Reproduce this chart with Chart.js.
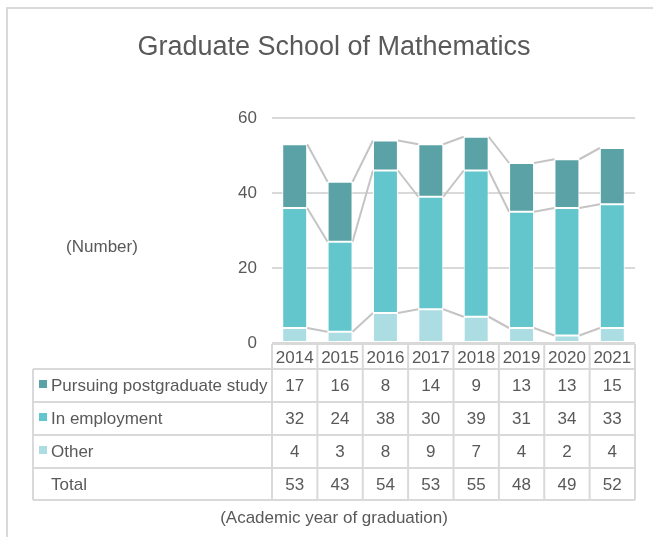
<!DOCTYPE html>
<html>
<head>
<meta charset="utf-8">
<script src="https://cdn.jsdelivr.net/npm/chart.js@4"></script>
<style>
  html, body { margin: 0; padding: 0; background: #fff; }
  #wrap { width: 653px; height: 537px; }
</style>
</head>
<body>
<div id="wrap"><canvas id="myChart" width="653" height="537"></canvas></div>
<script>
// chart values
const years = ['2014', '2015', '2016', '2017', '2018', '2019', '2020', '2021'];
const postgrad = [17, 16, 8, 14, 9, 13, 13, 15];
const employment = [32, 24, 38, 30, 39, 31, 34, 33];
const other = [4, 3, 8, 9, 7, 4, 2, 4];
const totals = [53, 43, 54, 53, 55, 48, 49, 52];
const seriesNames = ['Pursuing postgraduate study', 'In employment', 'Other'];
const yTicks = [0, 20, 40, 60];

const colors = { postgrad: '#5ba2a6', employment: '#62c6cc', other: '#acdde3' };
const textColor = '#595959';
const lineGray = '#d9d9d9';
const fontFamily = "'Liberation Sans', Arial, sans-serif";

// grey connector lines between stacked segments of neighbouring bars
const connectorPlugin = {
  id: 'connectors',
  beforeDatasetsDraw(chart) {
    const ctx = chart.ctx;
    ctx.save();
    ctx.strokeStyle = '#c4c4c4';
    ctx.lineWidth = 2;
    chart.data.datasets.forEach((ds, di) => {
      const bars = chart.getDatasetMeta(di).data;
      for (let i = 0; i < bars.length - 1; i++) {
        const a = bars[i], b = bars[i + 1];
        ctx.beginPath();
        ctx.moveTo(a.x + a.width / 2, a.y);
        ctx.lineTo(b.x - b.width / 2, b.y);
        ctx.stroke();
      }
    });
    ctx.restore();
  }
};

// frame, title, captions and the data table under the plot
const tablePlugin = {
  id: 'dataTable',
  beforeDraw(chart) {
    const ctx = chart.ctx;
    ctx.save();
    ctx.strokeStyle = lineGray;
    ctx.lineWidth = 2;
    ctx.strokeRect(7, 8, 700, 600);
    ctx.restore();
  },
  afterDraw(chart) {
    const ctx = chart.ctx;
    const area = chart.chartArea;
    const x = chart.scales.x;
    const n = years.length;
    const colW = (area.right - area.left) / n;
    const tableLeft = 33;
    const headerTop = area.bottom + 1;
    const rowTops = [headerTop + 25, headerTop + 58, headerTop + 91, headerTop + 124];
    const rowH = 32;
    const tableBottom = rowTops[3] + rowH;

    ctx.save();
    ctx.fillStyle = textColor;

    // title
    ctx.font = '27px ' + fontFamily;
    ctx.textAlign = 'center';
    ctx.textBaseline = 'middle';
    ctx.fillText('Graduate School of Mathematics', 334, 48);

    ctx.font = '17px ' + fontFamily;
    ctx.fillText('(Number)', 102, 247);
    ctx.fillText('(Academic year of graduation)', 334, 518);

    // grid lines of the table
    ctx.strokeStyle = lineGray;
    ctx.lineWidth = 2;
    ctx.beginPath();
    ctx.moveTo(area.left, headerTop); ctx.lineTo(area.right, headerTop);
    rowTops.forEach(t => { ctx.moveTo(tableLeft, t); ctx.lineTo(area.right, t); });
    ctx.moveTo(tableLeft, tableBottom); ctx.lineTo(area.right, tableBottom);
    ctx.moveTo(tableLeft, rowTops[0]); ctx.lineTo(tableLeft, tableBottom);
    for (let i = 0; i <= n; i++) {
      const cx = area.left + i * colW;
      ctx.moveTo(cx, headerTop); ctx.lineTo(cx, tableBottom);
    }
    ctx.stroke();

    // header years
    ctx.textAlign = 'center';
    years.forEach((yr, i) => ctx.fillText(yr, x.getPixelForValue(i), headerTop + 14));

    const rows = [
      { label: seriesNames[0], color: colors.postgrad, vals: postgrad },
      { label: seriesNames[1], color: colors.employment, vals: employment },
      { label: seriesNames[2], color: colors.other, vals: other },
      { label: 'Total', color: null, vals: totals }
    ];
    rows.forEach((r, ri) => {
      const cy = rowTops[ri] + rowH / 2 + 1;
      if (r.color) {
        ctx.fillStyle = r.color;
        ctx.fillRect(39, cy - 6, 8, 8);
      }
      ctx.fillStyle = textColor;
      ctx.textAlign = 'left';
      ctx.fillText(r.label, 51, cy);
      ctx.textAlign = 'center';
      r.vals.forEach((v, i) => ctx.fillText(String(v), x.getPixelForValue(i), cy));
    });
    ctx.restore();
  }
};

const ctx = document.getElementById('myChart').getContext('2d');
const myChart = new Chart(ctx, {
  type: 'bar',
  data: {
    labels: years,
    datasets: [
      { label: seriesNames[2], data: other, backgroundColor: colors.other },
      { label: seriesNames[1], data: employment, backgroundColor: colors.employment },
      { label: seriesNames[0], data: postgrad, backgroundColor: colors.postgrad }
    ]
  },
  options: {
    responsive: false,
    animation: false,
    layout: { padding: { left: 0, top: 118, right: 18, bottom: 194 } },
    datasets: {
      bar: {
        categoryPercentage: 1,
        barPercentage: 0.55,
        borderColor: '#ffffff',
        borderWidth: 1,
        borderSkipped: false
      }
    },
    scales: {
      x: {
        stacked: true,
        display: false
      },
      y: {
        stacked: true,
        min: 0,
        max: 60,
        afterFit(scale) { scale.width = 272; },
        afterBuildTicks(scale) { scale.ticks = yTicks.map(v => ({ value: v })); },
        border: { display: false },
        grid: { color: lineGray, lineWidth: 2, drawTicks: false, tickLength: 0 },
        ticks: {
          color: textColor,
          padding: 15,
          font: { family: fontFamily, size: 17 }
        }
      }
    },
    plugins: {
      legend: { display: false },
      title: { display: false },
      tooltip: { enabled: false }
    }
  },
  plugins: [connectorPlugin, tablePlugin]
});
</script>
</body>
</html>
